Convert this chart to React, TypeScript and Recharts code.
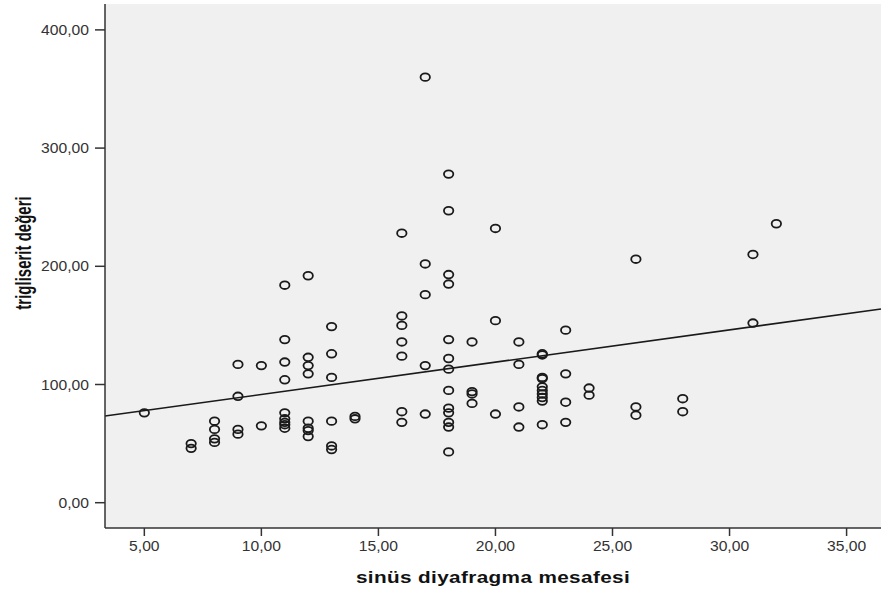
import React from "react";
import {
  ScatterChart,
  Scatter,
  XAxis,
  YAxis,
  CartesianGrid,
  ReferenceLine,
} from "recharts";

// sinüs diyafragma mesafesi (x) and trigliserit değeri (y)
const sinusValues: number[] = [
  5,
  7, 7,
  8, 8, 8, 8,
  9, 9, 9, 9,
  10, 10,
  11, 11, 11, 11, 11, 11, 11, 11, 11,
  12, 12, 12, 12, 12, 12, 12, 12,
  13, 13, 13, 13, 13, 13,
  14, 14,
  16, 16, 16, 16, 16, 16, 16,
  17, 17, 17, 17, 17,
  18, 18, 18, 18, 18, 18, 18, 18, 18, 18, 18, 18, 18,
  19, 19, 19, 19,
  20, 20, 20,
  21, 21, 21, 21,
  22, 22, 22, 22, 22, 22, 22, 22, 22, 22,
  23, 23, 23, 23,
  24, 24,
  26, 26, 26,
  28, 28,
  31, 31,
  32,
];

const trigValues: number[] = [
  76,
  50, 46,
  69, 62, 54, 51,
  117, 90, 62, 58,
  116, 65,
  184, 138, 119, 104, 76, 71, 68, 66, 63,
  192, 123, 116, 109, 69, 63, 61, 56,
  149, 126, 106, 69, 48, 45,
  73, 71,
  228, 158, 150, 136, 124, 77, 68,
  360, 202, 176, 116, 75,
  278, 247, 193, 185, 138, 122, 113, 95, 80, 76, 68, 64, 43,
  136, 94, 92, 84,
  232, 154, 75,
  136, 117, 81, 64,
  126, 125, 106, 105, 98, 95, 92, 89, 86, 66,
  146, 109, 85, 68,
  97, 91,
  206, 81, 74,
  88, 77,
  210, 152,
  236,
];

const xTicks: number[] = [5, 10, 15, 20, 25, 30, 35];
const yTicks: number[] = [0, 100, 200, 300, 400];
const xDomain: [number, number] = [3.32, 36.47];
const yDomain: [number, number] = [-21.4, 421.9];

// fit line end points
const fitLineX: number[] = [3.32, 36.47];
const fitLineY: number[] = [73.3, 163.9];

const xTitle = "sinüs diyafragma mesafesi";
const yTitle = "trigliserit değeri";

const points = sinusValues.map((x, i) => ({ x, y: trigValues[i] }));
const fitSegment = fitLineX.map((x, i) => ({ x, y: fitLineY[i] }));

const fmt = (v: number) => v.toFixed(2).replace(".", ",");

const font = "'Liberation Sans', Arial, sans-serif";

const XTick = (props: any) => {
  const { x, y, payload } = props;
  return (
    <text
      transform={`translate(${x}, ${y}) scale(1.12, 1)`}
      x={0}
      y={0}
      dy={10}
      textAnchor="middle"
      fontFamily={font}
      fontSize={14}
      fill="#333"
    >
      {fmt(payload.value)}
    </text>
  );
};

const YTick = (props: any) => {
  const { x, y, payload } = props;
  return (
    <text
      transform={`translate(${x}, ${y}) scale(1.12, 1)`}
      x={0}
      y={0}
      dy={5}
      textAnchor="end"
      fontFamily={font}
      fontSize={14}
      fill="#333"
    >
      {fmt(payload.value)}
    </text>
  );
};

const Ring = (props: any) => {
  const { cx, cy } = props;
  if (cx == null || cy == null) return null;
  return (
    <ellipse
      cx={cx}
      cy={cy}
      rx={4.7}
      ry={3.8}
      fill="none"
      stroke="#1a1a1a"
      strokeWidth={1.8}
    />
  );
};

const XTitle = (props: any) => {
  const vb = props.viewBox || {};
  const cx = vb.x + vb.width / 2;
  const cy = vb.y + 55;
  return (
    <text
      transform={`translate(${cx}, ${cy}) scale(1.22, 1)`}
      x={0}
      y={0}
      textAnchor="middle"
      fontFamily={font}
      fontWeight="bold"
      fontSize={17}
      letterSpacing={0.3}
      fill="#111"
    >
      {xTitle}
    </text>
  );
};

const YTitle = (props: any) => {
  const vb = props.viewBox || {};
  const cx = 31;
  const cy = vb.y + vb.height / 2 - 13;
  return (
    <text
      transform={`translate(${cx}, ${cy}) scale(1.45, 1) rotate(-90)`}
      x={0}
      y={0}
      textAnchor="middle"
      fontFamily={font}
      fontWeight="bold"
      fontSize={15}
      fill="#111"
    >
      {yTitle}
    </text>
  );
};

export default function App() {
  return (
    <div style={{ position: "absolute", left: 0, top: 0, width: 882, height: 592, background: "#fff" }}>
      <ScatterChart
        width={882}
        height={592}
        margin={{ top: 4, right: 1, bottom: 0, left: 0 }}
      >
        <CartesianGrid fill="#f0f0f0" horizontal={false} vertical={false} />
        <XAxis
          type="number"
          dataKey="x"
          domain={xDomain}
          ticks={xTicks}
          allowDataOverflow
          height={64}
          tickSize={8}
          tickMargin={5}
          tick={<XTick />}
          tickLine={{ stroke: "#333", strokeWidth: 1.5 }}
          axisLine={{ stroke: "#333", strokeWidth: 1.5 }}
          label={<XTitle />}
        />
        <XAxis
          xAxisId="top"
          orientation="top"
          type="number"
          domain={xDomain}
          allowDataOverflow
          height={0}
          tick={false}
          tickLine={false}
          axisLine={{ stroke: "#333", strokeWidth: 1.5 }}
        />
        <YAxis
          type="number"
          dataKey="y"
          domain={yDomain}
          ticks={yTicks}
          allowDataOverflow
          width={105}
          tickSize={10}
          tickMargin={6}
          tick={<YTick />}
          tickLine={{ stroke: "#333", strokeWidth: 1.5 }}
          axisLine={{ stroke: "#333", strokeWidth: 1.5 }}
          label={<YTitle />}
        />
        <YAxis
          yAxisId="right"
          orientation="right"
          type="number"
          domain={yDomain}
          allowDataOverflow
          width={0}
          tick={false}
          tickLine={false}
          axisLine={{ stroke: "#333", strokeWidth: 1.5 }}
        />
        <ReferenceLine
          segment={fitSegment}
          stroke="#1a1a1a"
          strokeWidth={1.6}
          ifOverflow="visible"
        />
        <Scatter data={points} shape={<Ring />} isAnimationActive={false} />
      </ScatterChart>
    </div>
  );
}
